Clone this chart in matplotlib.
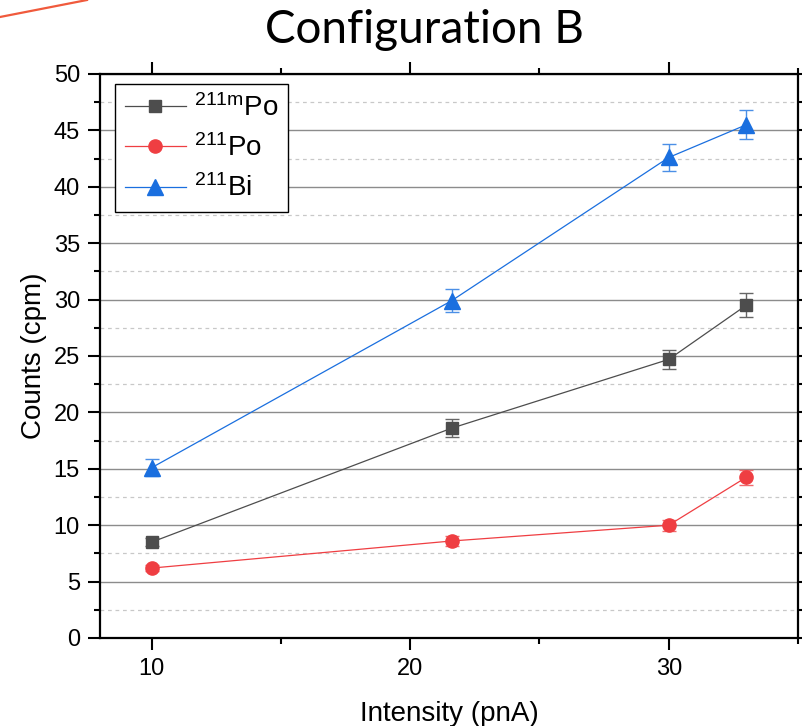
import matplotlib
matplotlib.use("Agg")
import matplotlib.pyplot as plt
from matplotlib.lines import Line2D
from matplotlib.ticker import MultipleLocator

plt.rcParams['font.family'] = ['Liberation Sans', 'DejaVu Sans']
plt.rcParams['mathtext.fontset'] = 'custom'
plt.rcParams['mathtext.rm'] = 'Liberation Sans'
plt.rcParams['mathtext.it'] = 'Liberation Sans:italic'
plt.rcParams['mathtext.bf'] = 'Liberation Sans:bold'

# data
intensity = [10, 21.6, 30, 33]
po211m = [8.5, 18.6, 24.7, 29.5]
po211m_err = [0.35, 0.8, 0.85, 1.05]
po211 = [6.2, 8.6, 10.0, 14.25]
po211_err = [0.3, 0.4, 0.5, 0.65]
bi211 = [15.1, 29.9, 42.6, 45.5]
bi211_err = [0.75, 1.0, 1.2, 1.3]

labels = [r'$^{\mathrm{211m}}$Po', r'$^{\mathrm{211}}$Po', r'$^{\mathrm{211}}$Bi']
colors = ['#4d4d4d', '#ef3e42', '#1a6fdf']
ecolors = ['#666666', '#f06a6d', '#4b8fe6']

fig = plt.figure(figsize=(8.02, 7.26), dpi=100)
ax = fig.add_axes([100 / 802, 1 - 638 / 726, 698 / 802, 564 / 726])

series = [(po211m, po211m_err, 's', 9), (po211, po211_err, 'o', 9.5), (bi211, bi211_err, '^', 11.5)]
handles = []
for (y, yerr, mk, ms), lab, c, ec in zip(series, labels, colors, ecolors):
    ax.errorbar(intensity, y, yerr=yerr, fmt='-', marker=mk, ms=ms, color=c,
                mfc=c, mec=c, lw=0.9, ecolor=ec, elinewidth=1, capsize=5,
                capthick=1, zorder=3)
    handles.append(Line2D([], [], color=c, marker=mk, ms=ms, mfc=c, mec=c, lw=0.9, label=lab))

ax.set_xlim(8, 35)
ax.set_ylim(0, 50)
ax.xaxis.set_major_locator(MultipleLocator(10))
ax.xaxis.set_minor_locator(MultipleLocator(5))
ax.yaxis.set_major_locator(MultipleLocator(5))
ax.yaxis.set_minor_locator(MultipleLocator(2.5))

ax.grid(True, which='major', axis='y', color='#8c8c8c', lw=1.0, zorder=0)
ax.grid(True, which='minor', axis='y', color='#c8c8c8', lw=0.9, ls=(0, (3, 3)), zorder=0)

for sp in ax.spines.values():
    sp.set_linewidth(1.6)
    sp.set_color('black')

ax.tick_params(which='both', direction='out', top=True, right=True, color='black')
ax.tick_params(which='major', length=8.5, width=1.5, labelsize=17, pad=6)
ax.tick_params(which='minor', length=4.5, width=1.5)

ax.set_xlabel('Intensity (pnA)', fontsize=20, labelpad=15)
ax.set_ylabel('Counts (cpm)', fontsize=20, labelpad=5)

leg = ax.legend(handles=handles, loc='upper left', bbox_to_anchor=(0.0215, 0.982),
                borderaxespad=0, fontsize=20, frameon=True, fancybox=False,
                framealpha=1, edgecolor='black', handlelength=2.2,
                handletextpad=0.3, labelspacing=0.45, borderpad=0.35)
leg.get_frame().set_linewidth(1.0)

fig.text(424 / 802, 1 - 30 / 726, 'Configuration B', fontsize=33, family='Lato',
         ha='center', va='center')

# stray red stroke in the top-left corner
fig.add_artist(Line2D([0, 87 / 802], [1 - 17 / 726, 1], transform=fig.transFigure,
                      color='#f05a3c', lw=1.6))

fig.savefig('out.png', dpi=100)
